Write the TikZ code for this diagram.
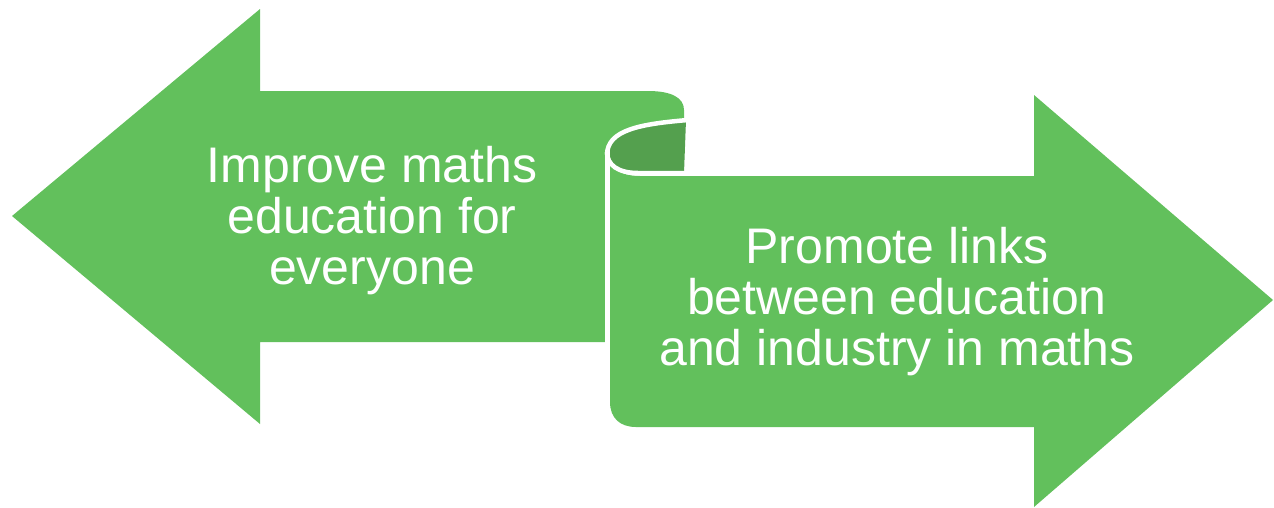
\documentclass[tikz,border=0pt]{standalone}
\usepackage{fontspec}
\setmainfont{Liberation Sans}
\definecolor{lightgreen}{RGB}{98,192,92}
\definecolor{darkgreen}{RGB}{84,160,78}
\begin{document}
\begin{tikzpicture}[x=1pt,y=-1pt,
  arrowfill/.style={fill=lightgreen,draw=none},
  curlfill/.style={fill=darkgreen,draw=none},
  gapline/.style={draw=white,line width=4.5pt},
  txt/.style={text=white,align=center,font=\fontsize{50}{51}\selectfont,inner sep=0pt}]
\useasboundingbox (0,0) rectangle (1274,507);
% left arrow
\path[arrowfill] (12,216) -- (260,9) -- (260,91) -- (648,91)
  .. controls (672,91) and (684,98) .. (684,110) -- (684,150) -- (605,150)
  -- (605,342) -- (260,342) -- (260,424) -- cycle;
% curl (dark inside)
\path[curlfill] (686,120) .. controls (640,124) and (607,130) .. (607,155)
  .. controls (607,166) and (618,173) .. (638,173) -- (684,173) -- cycle;
% right arrow
\path[arrowfill] (610,155) .. controls (610,168) and (620,176) .. (640,176)
  -- (1034,176) -- (1034,95) -- (1273,300) -- (1034,507) -- (1034,427)
  -- (636,427) .. controls (620,427) and (610,418) .. (610,402) -- cycle;
% white gaps of the scroll
\draw[gapline] (688,120) .. controls (640,124) and (607,130) .. (607,155);
\draw[gapline] (607,152) .. controls (607,165) and (618,173) .. (638,173) -- (690,173);
\draw[white,line width=5pt] (607.5,150) -- (607.5,345);
% texts
\node[txt] (lt) at (372,221) {Improve maths\\education for\\everyone};
\node[txt] (rt) at (897,302) {Promote links\\between education\\and industry in maths};
\end{tikzpicture}
\end{document}
